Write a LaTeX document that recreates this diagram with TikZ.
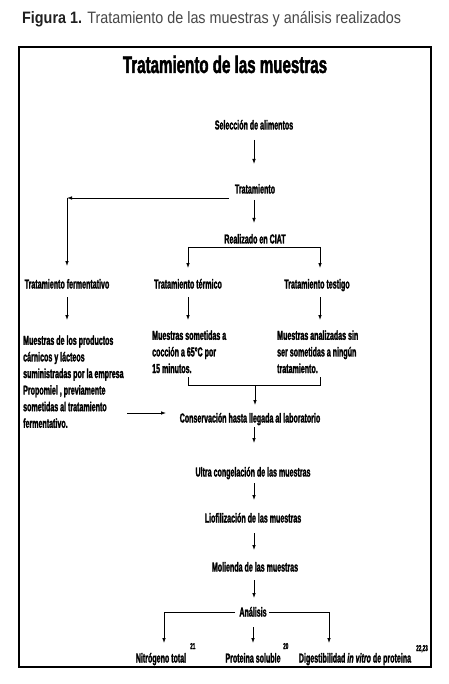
\documentclass[tikz,border=0pt]{standalone}
\usepackage{fontspec}
\setmainfont{Liberation Sans}
\newfontfamily\cond{Liberation Sans}[FakeStretch=0.545,FakeBold=1.7]
\newfontfamily\titf{Liberation Sans}[FakeStretch=0.63,FakeBold=1.8]
\newfontfamily\capf{Liberation Sans}[FakeStretch=0.87]
\usetikzlibrary{arrows.meta}
\begin{document}
\begin{tikzpicture}[x=1pt,y=-1pt,
  lbl/.style={inner sep=0pt,anchor=base,font=\cond\bfseries\fontsize{13}{16.6}\selectfont},
  blk/.style={inner sep=0pt,align=left,anchor=north west,font=\cond\bfseries\fontsize{13}{16.6}\selectfont},
  sup/.style={inner sep=0pt,anchor=base west,font=\cond\bfseries\fontsize{8.5}{9}\selectfont},
  arr/.style={-{Latex[length=5pt,width=3.6pt]},line width=0.85pt},
  ln/.style={line width=0.85pt}]
\useasboundingbox (0,0) rectangle (448,684);
% caption
\node[anchor=base west,inner sep=0pt,font=\capf\fontsize{16.5}{18}\selectfont,text=black!72] (cap) at (22,23.5)
  {{\bfseries\color{black!88}Figura 1.} Tratamiento de las muestras y análisis realizados};
% frame
\draw[line width=2pt] (19,47) rectangle (431,667);
\node[inner sep=0pt,anchor=base,font=\titf\bfseries\fontsize{24}{26}\selectfont] (title) at (225,73) {Tratamiento de las muestras};
% nodes
\node[lbl] (sel) at (254,129.5) {Selección de alimentos};
\node[lbl] (trat) at (255,193.5) {Tratamiento};
\node[lbl] (ciat) at (255,243.5) {Realizado en CIAT};
\node[lbl] (tf) at (67,288.5) {Tratamiento fermentativo};
\node[lbl] (tt) at (188,288.5) {Tratamiento térmico};
\node[lbl] (tg) at (317,288.5) {Tratamiento testigo};
\node[blk] (mf) at (23,335.2) {Muestras de los productos\\cárnicos y lácteos\\suministradas por la empresa\\Propomiel , previamente\\sometidas al tratamiento\\fermentativo.};
\node[blk] (mt) at (152,330.2) {Muestras sometidas a\\cocción a 65°C por\\15 minutos.};
\node[blk] (mg) at (277,330.2) {Muestras analizadas sin\\ser sometidas a ningún\\tratamiento.};
\node[lbl] (cons) at (250,422.5) {Conservación hasta llegada al laboratorio};
\node[lbl] (ultra) at (253,476.5) {Ultra congelación de las muestras};
\node[lbl] (liof) at (253,522.5) {Liofilización de las muestras};
\node[lbl] (mol) at (255,571.5) {Molienda de las muestras};
\node[lbl] (anal) at (253,616.5) {Análisis};
\node[lbl] (nit) at (161,662.5) {Nitrógeno total};
\node[sup] (s21) at (190,649) {21};
\node[lbl] (prot) at (253,662.5) {Proteina soluble};
\node[sup] (s20) at (283,649) {20};
\node[lbl] (dig) at (355,662.5) {Digestibilidad \textit{in vitro} de proteina};
\node[sup] (s22) at (416,651) {22,23};
% coordinates
\coordinate (sa) at (254,140);   \coordinate (sb) at (254,164);
\coordinate (ta) at (254,200);   \coordinate (tb) at (254,223);
\coordinate (lstart) at (229,198); \coordinate (lend) at (67,198);
\coordinate (lbot) at (67,266);
\coordinate (cl) at (188,247);   \coordinate (cr) at (320,247);
\coordinate (clb) at (188,268);  \coordinate (crb) at (320,268);
\coordinate (tfa) at (67,297);   \coordinate (tfb) at (67,320);
\coordinate (tta) at (188,297);  \coordinate (ttb) at (188,320);
\coordinate (tga) at (320,297);  \coordinate (tgb) at (320,320);
\coordinate (bl) at (188,377);   \coordinate (br) at (320,377);
\coordinate (blc) at (188,385);  \coordinate (brc) at (320,385);
\coordinate (bm) at (255,385);   \coordinate (bmb) at (255,405);
\coordinate (fa) at (127,413);   \coordinate (fb) at (166,413);
\coordinate (ca) at (254,427);   \coordinate (cb) at (254,443);
\coordinate (ua) at (254,483);   \coordinate (ub) at (254,500);
\coordinate (la) at (254,533);   \coordinate (lb) at (254,550);
\coordinate (ma) at (254,580);   \coordinate (mb) at (254,598);
\coordinate (pa) at (253,627);   \coordinate (pb) at (253,643);
\coordinate (aw) at (235,612);   \coordinate (ae) at (269,612);
\coordinate (al) at (164,612);   \coordinate (ar) at (329,612);
\coordinate (alb) at (164,643);  \coordinate (arb) at (329,643);
% connectors
\draw[arr] (sa) -- (sb);
\draw[arr] (lstart) -- (lend);
\draw[arr] (lend) -- (lbot);
\draw[arr] (ta) -- (tb);
\draw[ln] (cl) -- (cr);
\draw[arr] (cl) -- (clb);
\draw[arr] (cr) -- (crb);
\draw[arr] (tfa) -- (tfb);
\draw[arr] (tta) -- (ttb);
\draw[arr] (tga) -- (tgb);
\draw[ln] (bl) -- (blc) -- (brc) -- (br);
\draw[arr] (bm) -- (bmb);
\draw[arr] (fa) -- (fb);
\draw[arr] (ca) -- (cb);
\draw[arr] (ua) -- (ub);
\draw[arr] (la) -- (lb);
\draw[arr] (ma) -- (mb);
\draw[ln] (aw) -- (al);
\draw[arr] (al) -- (alb);
\draw[ln] (ae) -- (ar);
\draw[arr] (ar) -- (arb);
\draw[arr] (pa) -- (pb);
\end{tikzpicture}
\end{document}
